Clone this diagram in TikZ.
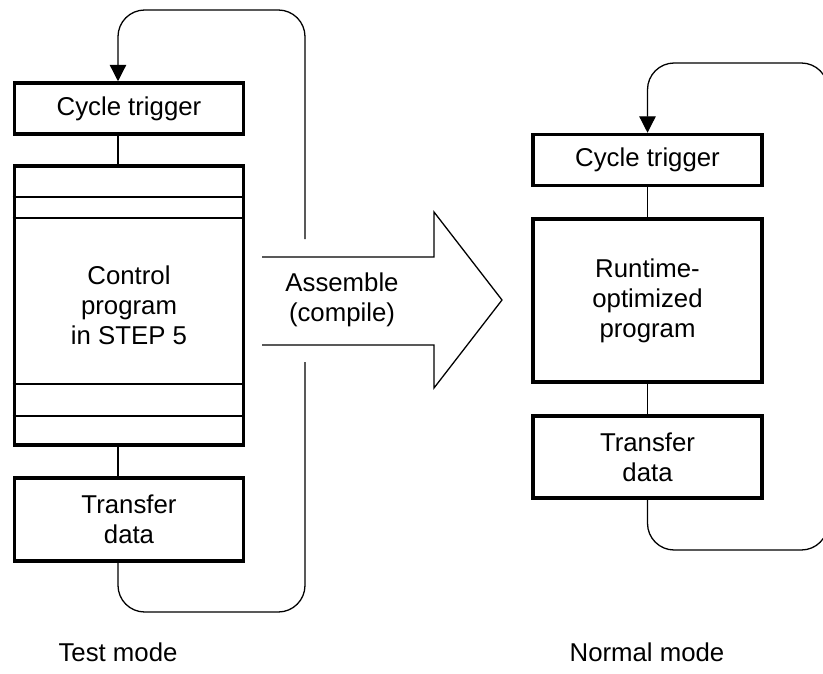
\documentclass[tikz,border=0pt]{standalone}
\usepackage{fontspec}
\setmainfont{Liberation Sans}
\usetikzlibrary{arrows.meta, calc}

\begin{document}
\begin{tikzpicture}[x=0.03cm, y=-0.03cm,
    box/.style={draw, line width=3pt, minimum width=6.87cm, inner sep=0pt,
        align=center, font=\fontsize{22}{25.6}\selectfont},
    wire/.style={line width=1.1pt},
    loop/.style={wire, rounded corners=0.8cm},
    tip/.style={-{Triangle[length=14pt, width=14pt]}},
    lbl/.style={align=center, font=\fontsize{22}{25.6}\selectfont}]
    \useasboundingbox (0,0) rectangle (823,673);
    % Test mode
    \node[box, minimum height=1.53cm] (trigL) at (129,108.5) {Cycle trigger};
    \node[box, minimum height=8.37cm] (progL) at (129,305.5) {Control\\program\\in STEP 5};
    \node[box, minimum height=2.49cm] (transL) at (129,519.5) {Transfer\\data};
    \foreach \yy in {197,218,384,416} {
        \coordinate (r) at (0,\yy);
        \draw[wire] (progL.west |- r) -- (progL.east |- r);
    }
    \coordinate (lx) at (118,0);
    \draw[wire] (trigL.south -| lx) -- (progL.north -| lx);
    \draw[wire] (progL.south -| lx) -- (transL.north -| lx);
    % Loop, broken by the arrow
    \coordinate (ltop) at (305,10);
    \coordinate (lbot) at (305,612);
    \coordinate (gapT) at (305,239);
    \coordinate (gapB) at (305,362);
    \draw[loop] (transL.south -| lx) |- (lbot) -- (gapB);
    \draw[loop, tip] (gapT) -- (ltop) -| (trigL.north -| lx);
    \node[lbl] (testL) at (118,652) {Test mode};
    % Assemble arrow (open at the back)
    \draw[wire] (262,257) -- (434,257) -- (434,212) -- (502,300)
        -- (434,388) -- (434,345) -- (262,345);
    \node[lbl] (asm) at (342,300) {Assemble\\(compile)};
    % Normal mode
    \node[box, minimum height=1.53cm] (trigR) at (647.5,160) {Cycle trigger};
    \node[box, minimum height=4.89cm] (progR) at (647.5,300.5) {Runtime-\\optimized\\program};
    \node[box, minimum height=2.46cm] (transR) at (647.5,457) {Transfer\\data};
    \draw[wire] (trigR) -- (progR);
    \draw[wire] (progR) -- (transR);
    \coordinate (rtop) at (828,63);
    \coordinate (rbot) at (828,550);
    \draw[loop, tip] (transR.south) |- (rbot) -- (rtop) -| (trigR.north);
    \node[lbl] (normL) at (647,652) {Normal mode};
\end{tikzpicture}
\end{document}
